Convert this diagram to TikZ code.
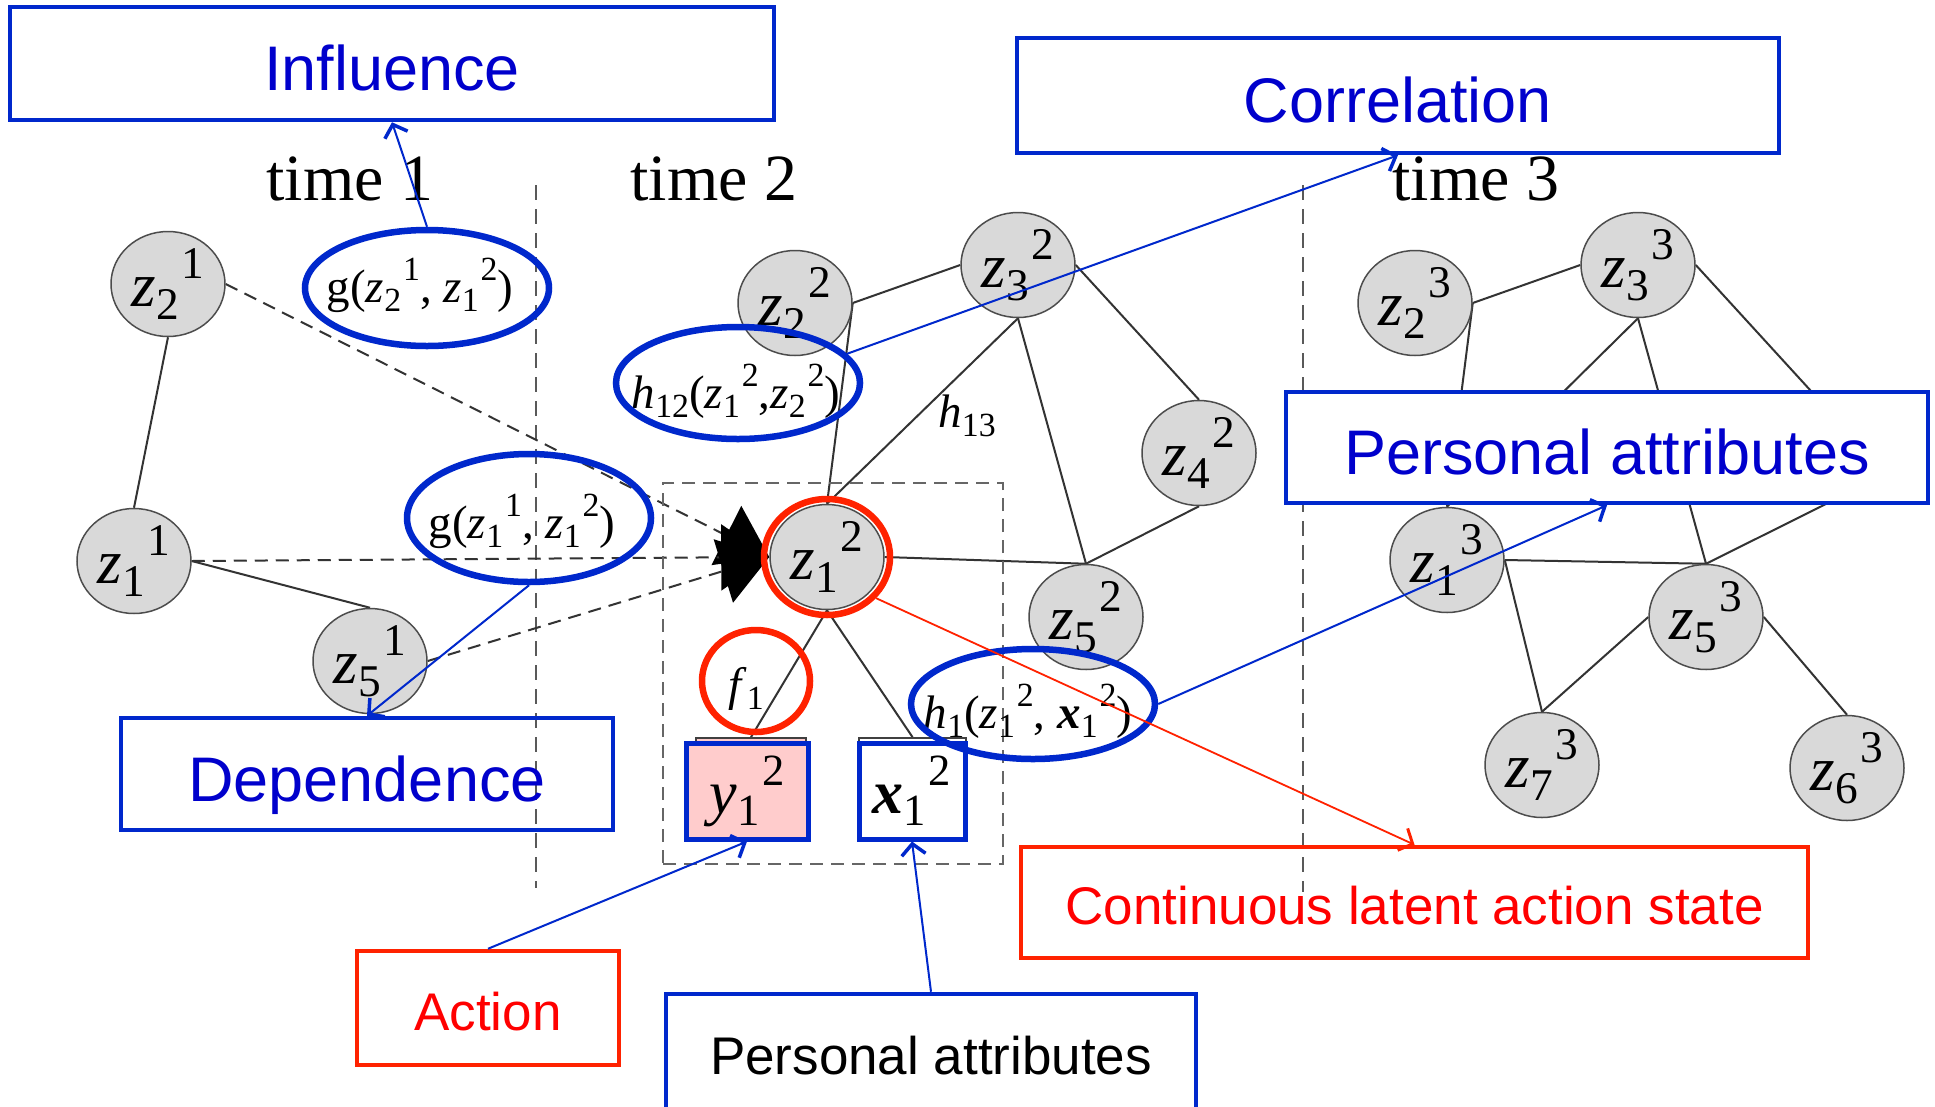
\documentclass[tikz,border=0pt]{standalone}
\usepackage{fontspec}
\setmainfont{Liberation Serif}
\newfontfamily\arialf{Liberation Sans}
\usepackage{graphicx}
\usetikzlibrary{arrows.meta,shapes.geometric}
\pgfdeclarelayer{bg}
\pgfdeclarelayer{paper}
\pgfsetlayers{paper,bg,main}
\definecolor{ablue}{RGB}{0,40,204}
\definecolor{tblue}{RGB}{0,0,204}
\definecolor{ared}{RGB}{255,34,0}
\definecolor{tred}{RGB}{255,0,0}
\definecolor{ngray}{RGB}{217,217,217}
\definecolor{pinkf}{RGB}{255,204,204}
\newcommand\sx[3]{#1\raisebox{-0.2em}{\scalebox{0.72}{#2}}\kern0.04em\raisebox{0.45em}{\scalebox{0.72}{#3}}}
\newcommand\lowsub[2]{#1\raisebox{-0.2em}{\scalebox{0.72}{#2}}}
\newcommand\setfs[1]{\fontsize{#1}{#1}\selectfont}
\begin{document}
\begin{tikzpicture}[x=1pt,y=-1pt,
  gnode/.style={ellipse,draw=black!70,line width=1.5pt,fill=ngray,minimum width=114pt,minimum height=105pt,inner sep=0pt,font=\setfs{63}},
  edge/.style={draw=black!80,line width=2pt},
  dedge/.style={draw=black!80,line width=2pt,dash pattern=on 13pt off 8pt,-{Triangle[length=48pt,width=66pt,black]}},
  vsep/.style={draw=black!65,line width=2pt,dash pattern=on 15pt off 9pt},
  dframe/.style={draw=black!60,line width=2pt,dash pattern=on 13pt off 8pt,rectangle,inner sep=0pt},
  bell/.style={ellipse,draw=ablue,line width=6.5pt,inner sep=0pt},
  rell/.style={ellipse,draw=ared,line width=6.5pt,inner sep=0pt},
  flab/.style={inner sep=0pt,font=\setfs{47},anchor=base},
  tlab/.style={inner sep=0pt,font=\setfs{66},anchor=base},
  bbox/.style={rectangle,draw=ablue,line width=4.5pt,text=tblue,inner sep=0pt,font={\arialf\setfs{63}},text height=54pt,text depth=0pt},
  rbox/.style={rectangle,draw=ared,line width=4.5pt,text=tred,inner sep=0pt,font={\arialf\setfs{53}},text height=44pt,text depth=0pt},
  kbox/.style={rectangle,draw=ablue,line width=4.5pt,text=black,inner sep=0pt,font={\arialf\setfs{53}},text height=44pt,text depth=0pt},
  sqo/.style={rectangle,draw=black!75,line width=1.8pt,inner sep=0pt},
  sqb/.style={rectangle,draw=ablue,line width=5pt,inner sep=0pt,font=\setfs{62}},
  annb/.style={draw=ablue,line width=2pt,-{Straight Barb[length=11pt,width=24pt,line width=3.5pt]}},
  annr/.style={draw=ared,line width=1.8pt,-{Straight Barb[length=11pt,width=24pt,line width=3pt]}}
]
\useasboundingbox (0,0) rectangle (1935,1106);
\clip (0,0) rectangle (1935,1106);
\begin{pgfonlayer}{paper}
\fill[white] (0,0) rectangle (1935,1106);
\end{pgfonlayer}

% time labels
\node[tlab] (t1) at (350,200) {time 1};
\node[tlab] (t2) at (714,200) {time 2};
\node[tlab] (t3) at (1476,200) {time 3};

% separators and frame
\coordinate (s1a) at (536,185); \coordinate (s1b) at (536,888);
\coordinate (s2a) at (1303,185); \coordinate (s2b) at (1303,892);
\node[dframe,minimum width=340pt,minimum height=381pt] (frame) at (833,673.5) {};

% graph nodes
\node[gnode] (z21) at (168,284) {\sx{\textit{z}}{2}{1}};
\node[gnode] (z11) at (134,561) {\sx{\textit{z}}{1}{1}};
\node[gnode] (z51) at (370,661) {\sx{\textit{z}}{5}{1}};
\node[gnode] (z22) at (795,303) {\sx{\textit{z}}{2}{2}};
\node[gnode] (z32) at (1018,265) {\sx{\textit{z}}{3}{2}};
\node[gnode] (z42) at (1199,453) {\sx{\textit{z}}{4}{2}};
\node[gnode] (z12) at (827,557) {\sx{\textit{z}}{1}{2}};
\node[gnode] (z52) at (1086,617) {\sx{\textit{z}}{5}{2}};
\node[gnode] (z23) at (1415,303) {\sx{\textit{z}}{2}{3}};
\node[gnode] (z33) at (1638,265) {\sx{\textit{z}}{3}{3}};
\node[gnode] (z13) at (1447,560) {\sx{\textit{z}}{1}{3}};
\node[gnode] (z53) at (1706,617) {\sx{\textit{z}}{5}{3}};
\node[gnode] (z73) at (1542,765) {\sx{\textit{z}}{7}{3}};
\node[gnode] (z63) at (1847,768) {\sx{\textit{z}}{6}{3}};
\coordinate (c43t) at (1832,414);
\coordinate (c43b) at (1834,500);

% observation squares
\node[sqo,fill=pinkf,minimum width=110pt,minimum height=100pt] (y12o) at (751,788) {};
\node[sqo,fill=white,minimum width=107pt,minimum height=100pt] (x12o) at (912.5,788) {};
\node[sqb,fill=pinkf,minimum width=122pt,minimum height=96pt] (y12) at (747,791) {\sx{\textit{y}}{1}{2}};
\node[sqb,fill=white,minimum width=106pt,minimum height=96pt] (x12) at (912,791) {\sx{\textbf{\textit{x}}}{1}{2}};

\begin{pgfonlayer}{bg}
\draw[vsep] (s1a) -- (s1b);
\draw[vsep] (s2a) -- (s2b);
% time 1
\draw[edge] (z21.south) -- (z11.north);
\draw[edge] (z11.east) -- (z51.north);
\draw[dedge] (z21.east) -- (z12.west);
\draw[dedge] (z11.east) -- (z12.west);
\draw[dedge] (z51.east) -- (z12.west);
% time 2
\draw[edge] (z22.east) -- (z32.west);
\draw[edge] (z22.east) -- (z12.north);
\draw[edge] (z32.south) -- (z12.north);
\draw[edge] (z32.south) -- (z52.north);
\draw[edge] (z32.east) -- (z42.north);
\draw[edge] (z42.south) -- (z52.north);
\draw[edge] (z12.east) -- (z52.north);
\draw[edge] (z12.south) -- (y12o.north);
\draw[edge] (z12.south) -- (x12o.north);
% time 3
\draw[edge] (z23.east) -- (z33.west);
\draw[edge] (z23.east) -- (z13.north);
\draw[edge] (z33.south) -- (z13.north);
\draw[edge] (z33.south) -- (z53.north);
\draw[edge] (z33.east) -- (c43t);
\draw[edge] (c43b) -- (z53.north);
\draw[edge] (z13.east) -- (z53.north);
\draw[edge] (z13.east) -- (z73.north);
\draw[edge] (z53.west) -- (z73.north);
\draw[edge] (z53.east) -- (z63.north);
\end{pgfonlayer}

% formula labels
\node[flab] (lh13) at (967,427) {\lowsub{\textit{h}}{13}};
\node[flab] (lf1) at (746,700) {\lowsub{\textit{f}}{1}};
\node[flab] (lgA) at (420,302) {g(\sx{\textit{z}}{2}{1}, \sx{\textit{z}}{1}{2})};
\node[flab] (lgB) at (522,538) {g(\sx{\textit{z}}{1}{1}, \sx{\textit{z}}{1}{2})};
\node[flab] (lh12) at (736,408) {\lowsub{\textit{h}}{12}(\sx{\textit{z}}{1}{2},\sx{\textit{z}}{2}{2})};
\node[flab] (lh1) at (1028,728) {\lowsub{\textit{h}}{1}(\sx{\textit{z}}{1}{2}, \sx{\textbf{\textit{x}}}{1}{2})};

% highlight ellipses
\node[bell,minimum width=244pt,minimum height=116pt] (eA) at (427,288) {};
\node[bell,minimum width=244pt,minimum height=128pt] (eB) at (529,518) {};
\node[bell,minimum width=244pt,minimum height=112pt] (eh12) at (738,383) {};
\node[bell,minimum width=244pt,minimum height=110pt] (eh1) at (1033,704) {};
\node[rell,minimum width=126pt,minimum height=116pt] (rz12) at (827,557) {};
\node[rell,minimum width=108pt,minimum height=102pt] (rf1) at (756,681) {};

% annotation boxes
\node[bbox,fill=white,minimum width=764pt,minimum height=113pt] (infl) at (392,63.5) {Influence};
\node[bbox,fill=white,minimum width=762pt,minimum height=115pt] (corr) at (1398,95.5) {Correlation};
\node[bbox,fill=white,minimum width=642pt,minimum height=111pt] (pr) at (1607,447.5) {Personal attributes};
\node[bbox,minimum width=492pt,minimum height=112pt] (dep) at (367,774) {Dependence};
\node[rbox,minimum width=262pt,minimum height=114pt] (act) at (488,1008) {Action};
\node[rbox,minimum width=787pt,minimum height=111pt] (cont) at (1414.5,902.5) {Continuous latent action state};
\node[kbox,minimum width=530pt,minimum height=116pt] (pb) at (931,1052) {Personal attributes};

% annotation arrows
\draw[annb] (eA.north) -- (infl.south);
\draw[annb] (eB.south) -- (dep.north);
\draw[annb] (eh12.15) -- (corr.south);
\draw[annb] (eh1.east) -- (pr.south);
\draw[annb] (act.north) -- (y12.south);
\draw[annb] (pb.north) -- (x12.south);
\draw[annr] (rz12.-40) -- (cont.north);
\end{tikzpicture}
\end{document}
